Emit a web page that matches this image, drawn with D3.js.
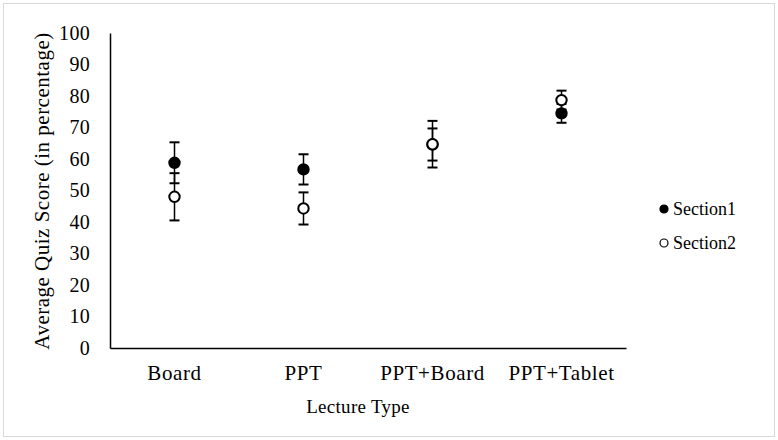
<!DOCTYPE html>
<html>
<head>
<meta charset="utf-8">
<script src="https://cdn.jsdelivr.net/npm/d3@7"></script>
<style>
  body { margin: 0; background: #fff; }
  svg text { font-family: "Liberation Serif", "Times New Roman", serif; fill: #000; }
</style>
</head>
<body>
<svg id="chart" width="778" height="440"></svg>
<script>
// data
const categories = ['Board', 'PPT', 'PPT+Board', 'PPT+Tablet'];
const section1 = [58.8, 56.7, 64.6, 74.5];
const section1Err = [6.5, 4.8, 5.1, 3.0];
const section2 = [48.0, 44.3, 64.7, 78.7];
const section2Err = [7.5, 5.1, 7.4, 3.0];
const yTicks = [0, 10, 20, 30, 40, 50, 60, 70, 80, 90, 100];

const series = [
  { name: 'Section1', values: section1, err: section1Err, fill: '#000' },
  { name: 'Section2', values: section2, err: section2Err, fill: '#fff' },
];

const svg = d3.select('#chart');

// outer frame
svg.append('rect')
  .attr('x', 3.5).attr('y', 3.5)
  .attr('width', 771).attr('height', 433)
  .attr('fill', 'none')
  .attr('stroke', '#d9d9d9');

const x = d3.scaleBand().domain(categories).range([110, 626]);
const y = d3.scaleLinear().domain([0, 100]).range([348, 33]);

// axes
const yAxis = svg.append('g')
  .attr('transform', 'translate(110,0)')
  .call(d3.axisLeft(y).tickValues(yTicks).tickSize(0).tickPadding(20));
yAxis.select('.domain').attr('stroke', '#000').attr('stroke-width', 1.5);
yAxis.selectAll('text')
  .attr('font-size', 20)
  .attr('letter-spacing', 0.3)
  .attr('font-family', '"Liberation Serif", serif');

const xAxis = svg.append('g')
  .attr('transform', 'translate(0,348)')
  .call(d3.axisBottom(x).tickSize(0).tickPadding(17));
xAxis.select('.domain').attr('stroke', '#000').attr('stroke-width', 1.5);
xAxis.selectAll('text')
  .attr('font-size', 21)
  .attr('letter-spacing', 0.6)
  .attr('font-family', '"Liberation Serif", serif');

// axis titles
svg.append('text')
  .attr('transform', 'translate(49,191) rotate(-90)')
  .attr('text-anchor', 'middle')
  .attr('font-size', 21)
  .attr('letter-spacing', 0.5)
  .text('Average Quiz Score (in percentage)');

svg.append('text')
  .attr('x', 358).attr('y', 413)
  .attr('text-anchor', 'middle')
  .attr('font-size', 19)
  .attr('letter-spacing', 0.3)
  .text('Lecture Type');

// error bars + markers
const capW = 5;
series.forEach(s => {
  const g = svg.append('g');
  const rows = categories.map((c, i) => ({ c, v: s.values[i], e: s.err[i] }));
  const cx = d => x(d.c) + x.bandwidth() / 2;

  g.selectAll('line.bar').data(rows).enter().append('line')
    .attr('x1', cx).attr('x2', cx)
    .attr('y1', d => y(d.v + d.e)).attr('y2', d => y(d.v - d.e))
    .attr('stroke', '#000').attr('stroke-width', 1.5);
  [1, -1].forEach(sign => {
    g.selectAll(null).data(rows).enter().append('line')
      .attr('x1', d => cx(d) - capW).attr('x2', d => cx(d) + capW)
      .attr('y1', d => y(d.v + sign * d.e)).attr('y2', d => y(d.v + sign * d.e))
      .attr('stroke', '#000').attr('stroke-width', 2);
  });
  g.selectAll('circle').data(rows).enter().append('circle')
    .attr('cx', cx).attr('cy', d => y(d.v))
    .attr('r', 5.2)
    .attr('fill', s.fill)
    .attr('stroke', '#000').attr('stroke-width', 2);
});

// legend
const legend = svg.append('g');
series.forEach((s, i) => {
  const ly = 209 + i * 34;
  legend.append('circle')
    .attr('cx', 664).attr('cy', ly)
    .attr('r', 4)
    .attr('fill', s.fill)
    .attr('stroke', '#000').attr('stroke-width', 1.2);
  legend.append('text')
    .attr('x', 673).attr('y', ly + 6)
    .attr('font-size', 18)
    .text(s.name);
});
</script>
</body>
</html>
